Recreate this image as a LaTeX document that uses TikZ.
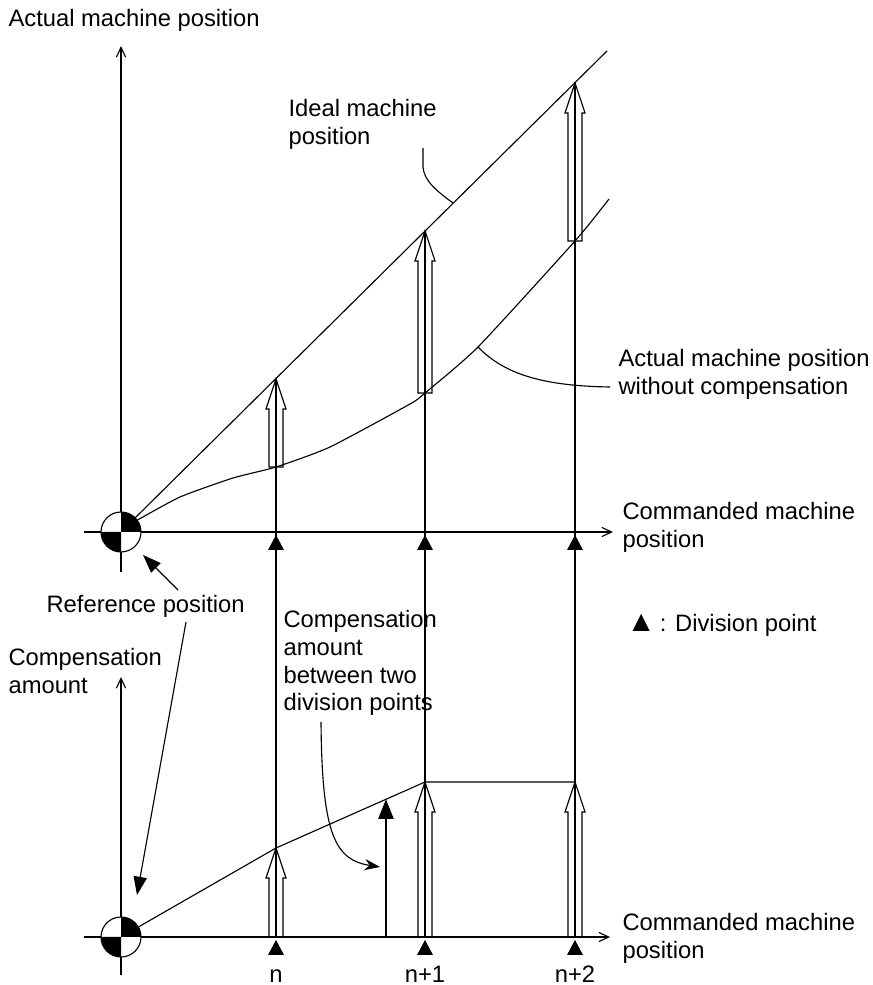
\documentclass[tikz,border=0pt]{standalone}
\usepackage{fontspec}
\setmainfont{Liberation Sans}
\usepackage{tikz}
\usetikzlibrary{
    arrows.meta,
    positioning,
    calc
}

\tikzset{
    refmark/.pic={
        \fill[white] (0,0) circle[radius=20];
        \fill (0,0) -- (20,0) arc[start angle=0, end angle=90, radius=20] -- cycle;
        \fill (0,0) -- (-20,0) arc[start angle=180, end angle=270, radius=20] -- cycle;
        \draw (0,0) circle[radius=20];
    }
}

% hollow (outlined) arrow pointing straight up: {foot}{tip}
\newcommand{\hollowarrow}[2]{%
    \draw ($(#1)+(-7,0)$) -- ($(#2)+(-7,-30)$) -- ($(#2)+(-10,-30)$) -- (#2)
        -- ($(#2)+(10,-30)$) -- ($(#2)+(7,-30)$) -- ($(#1)+(7,0)$) -- cycle;
}
% division point mark under an axis point
\newcommand{\divmark}[1]{%
    \fill ($(#1)+(0,-3)$) -- ++(-8,-15) -- ++(16,0) -- cycle;
}

\begin{document}
\begin{tikzpicture}[
    x=0.025cm, y=0.025cm,
    line width=0.8pt,
    every node/.style={font=\fontsize{16.9}{19.8}\selectfont, inner sep=0pt, align=left},
    axis/.style={-{Straight Barb[length=7pt, width=6.5pt]}},
    refarrow/.style={-{Triangle[length=13pt, width=9.5pt]}},
    amountarrow/.style={-{Triangle[length=14pt, width=11pt]}},
    leader/.style={-{Stealth[length=11pt, width=8pt]}}
]
\useasboundingbox (0,0) rectangle (873,985);

% ==================== KEY POINTS ====================
\coordinate (O1) at (121,453);
\coordinate (O2) at (121,48);
% ideal machine position
\coordinate (In) at (276,606);
\coordinate (In1) at (425,754);
\coordinate (In2) at (575,902);
\coordinate (Iend) at (607,934);
% actual machine position without compensation
\coordinate (An) at (276,518);
\coordinate (An1) at (425,592);
\coordinate (Aptr) at (478,638);
\coordinate (An2) at (575,744);
% compensation amount
\coordinate (Cn) at (276,137);
\coordinate (Cn1) at (425,203);
\coordinate (Cn2) at (575,203);
\coordinate (Cmid) at ($(Cn)!0.738!(Cn1)$);
\coordinate (Pn) at (Cn |- O2);
\coordinate (Pn1) at (Cn1 |- O2);
\coordinate (Pn2) at (Cn2 |- O2);

% ==================== UPPER GRAPH ====================
\draw[axis] (121,413) -- (121,939);
\draw[axis] (84,453) -- (613,453);

\draw ($(O1)+(45:20)$) -- (Iend);
\draw plot[smooth, tension=0.35] coordinates {($(O1)+(36:20)$) (180,488) (233,507) (An) (330,538) (410,581) (An1) (Aptr) (An2) (609,786)};

\draw (Pn) -- (In);
\draw (Pn1) -- (In1);
\draw (Pn2) -- (In2);

\hollowarrow{An}{In}
\hollowarrow{An1}{In1}
\hollowarrow{An2}{In2}

% ==================== LOWER GRAPH ====================
\draw[axis] (121,10) -- (121,308);
\draw[axis] (84,48) -- (610,48);

\draw ($(O2)+(30:20)$) -- (Cn) -- (Cn1) -- (Cn2);

\hollowarrow{Pn}{Cn}
\hollowarrow{Pn1}{Cn1}
\hollowarrow{Pn2}{Cn2}

\draw[amountarrow] (Cmid |- O2) -- (Cmid);

% division points
\foreach \p in {n, n1, n2} {
    \divmark{I\p |- O1}
    \divmark{P\p}
}

\pic at (O1) {refmark};
\pic at (O2) {refmark};

% ==================== LABELS ====================
\node[anchor=west] (topLbl) at (8,965) {Actual machine position};
\node[anchor=west] (idealLbl) at (288,861) {Ideal machine\\position};
\node[anchor=west] (actualLbl) at (618,611) {Actual machine position\\without compensation};
\node[anchor=west] (cmdUpLbl) at (622,458) {Commanded machine\\position};
\node[anchor=west] (refLbl) at (46,379) {Reference position};
\node[anchor=west] (legendLbl) at (626,360) {{\fontsize{21}{19.8}\selectfont ▲}\,: Division point};
\node[anchor=west] (compLbl) at (8,314) {Compensation\\amount};
\node[anchor=west] (betweenLbl) at (283,322) {Compensation\\amount\\between two\\division points};
\node[anchor=west] (cmdLowLbl) at (622,47) {Commanded machine\\position};

\node[anchor=base] (lblN) at (276,3) {n};
\node[anchor=base] (lblN1) at (425,3) {n+1};
\node[anchor=base] (lblN2) at (575,3) {n+2};

% leaders
\coordinate (idealTail) at (423,837);
\coordinate (idealPt) at (453,782);
\draw (idealTail) -- (423,818) .. controls (424,805) and (435,795) .. (idealPt);

\coordinate (actualTail) at (610,598);
\draw (Aptr) .. controls (505,610) and (545,599) .. (actualTail);

\coordinate (refTail1) at (178,395);
\coordinate (refTip1) at (143,430);
\coordinate (refTail2) at (186,363);
\coordinate (refTip2) at (137,90);
\draw[refarrow] (refTail1) -- (refTip1);
\draw[refarrow] (refTail2) -- (refTip2);

\coordinate (betweenTail) at (321,263);
\coordinate (betweenTip) at (380,118);
\draw[leader] (betweenTail) .. controls (322,150) and (335,125) .. (betweenTip);

\end{tikzpicture}
\end{document}
